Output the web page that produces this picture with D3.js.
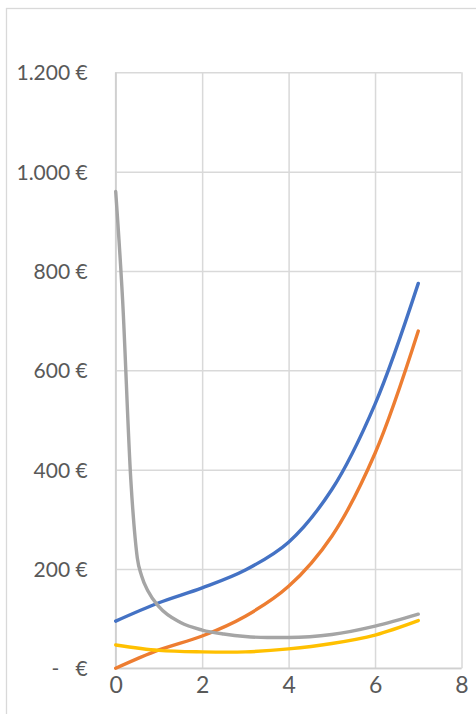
<!DOCTYPE html>
<html>
<head>
<meta charset="utf-8">
<script src="https://cdn.jsdelivr.net/npm/d3@7"></script>
<style>
  html, body { margin: 0; padding: 0; background: #fff; }
  svg { display: block; }
</style>
</head>
<body>
<svg id="chart" width="476" height="714"></svg>
<script>
// ---- data ----
const xValues      = [0, 1, 2, 3, 4, 5, 6, 7];
const blueSeries   = [95, 132, 162, 198, 254, 360, 532, 775];
const orangeSeries = [0, 37, 65, 105, 165, 266, 433, 679];
const yellowSeries = [47, 36, 33, 33, 39, 50, 67, 96];

const grayX        = [0, 0.16, 0.35, 0.45, 0.5, 0.6, 0.75, 1, 1.5, 2, 2.5, 3, 3.5, 4, 5, 6, 7];
const graySeries   = [960, 741, 379, 262, 222, 186, 155, 124, 92, 77, 69, 64, 62, 62, 68, 85, 109];

const xTicks = [0, 2, 4, 6, 8];
const yTicks = [0, 200, 400, 600, 800, 1000, 1200];

// ---- layout ----
const svg = d3.select("#chart");
const plot = { left: 115.7, right: 461.5, top: 72.3, bottom: 668.3 };

const x = d3.scaleLinear().domain([0, 8]).range([plot.left, plot.right]);
const y = d3.scaleLinear().domain([0, 1200]).range([plot.bottom, plot.top]);

const gridColor = "#d9d9d9";
const textColor = "#595959";
const fontFamily = "Lato, 'Open Sans', sans-serif";

// outer chart border
svg.append("rect")
  .attr("x", 6.5).attr("y", 8.5)
  .attr("width", 490).attr("height", 720)
  .attr("fill", "none")
  .attr("stroke", gridColor)
  .attr("stroke-width", 1.3);

// gridlines via axes
const yGrid = d3.axisLeft(y).tickValues(yTicks).tickSize(-(plot.right - plot.left)).tickFormat("");
svg.append("g")
  .attr("transform", `translate(${plot.left},0)`)
  .call(yGrid)
  .call(g => g.select(".domain").remove())
  .call(g => g.selectAll("line").attr("stroke", gridColor).attr("stroke-width", 1.5));

const xGrid = d3.axisBottom(x).tickValues(xTicks).tickSize(-(plot.bottom - plot.top)).tickFormat("");
svg.append("g")
  .attr("transform", `translate(0,${plot.bottom})`)
  .call(xGrid)
  .call(g => g.select(".domain").remove())
  .call(g => g.selectAll("line").attr("stroke", gridColor).attr("stroke-width", 1.5));

// axis lines (zero lines)
svg.append("line")
  .attr("x1", x(0)).attr("x2", x(8)).attr("y1", y(0)).attr("y2", y(0))
  .attr("stroke", "#d0d0d0").attr("stroke-width", 1.6);
svg.append("line")
  .attr("x1", x(0)).attr("x2", x(0)).attr("y1", y(0)).attr("y2", y(1200))
  .attr("stroke", "#d0d0d0").attr("stroke-width", 1.6);

// tick labels
const fmtEuro = v => v === 0 ? "-\u00a0\u00a0\u00a0€" : d3.format(",")(v).replace(/,/g, ".") + " €";

const yAxis = d3.axisLeft(y).tickValues(yTicks).tickSize(0).tickPadding(28).tickFormat(fmtEuro);
svg.append("g")
  .attr("transform", `translate(${plot.left},0)`)
  .call(yAxis)
  .call(g => g.select(".domain").remove())
  .call(g => g.selectAll("text")
    .attr("fill", textColor)
    .attr("font-family", fontFamily)
    .attr("font-size", 21)
    .attr("dy", "0.36em"));

const xAxis = d3.axisBottom(x).tickValues(xTicks).tickSize(0).tickPadding(23).tickFormat(d3.format("d"));
svg.append("g")
  .attr("transform", `translate(0,${plot.bottom})`)
  .call(xAxis)
  .call(g => g.select(".domain").remove())
  .call(g => g.selectAll("text")
    .attr("fill", textColor)
    .attr("font-family", fontFamily)
    .attr("font-size", 23)
    .attr("dy", "0.08em"));

// series
const smooth = d3.curveCatmullRom.alpha(0.5);
const series = [
  { name: "blue",   xs: xValues, ys: blueSeries,   color: "#4472C4", curve: smooth },
  { name: "orange", xs: xValues, ys: orangeSeries, color: "#ED7D31", curve: smooth },
  { name: "gray",   xs: grayX,   ys: graySeries,   color: "#A5A5A5", curve: d3.curveMonotoneX },
  { name: "yellow", xs: xValues, ys: yellowSeries, color: "#FFC000", curve: smooth }
];

svg.append("g").selectAll("path")
  .data(series)
  .join("path")
  .attr("d", s => d3.line()
      .x(d => x(d[0]))
      .y(d => y(d[1]))
      .curve(s.curve)(s.xs.map((xv, i) => [xv, s.ys[i]])))
  .attr("fill", "none")
  .attr("stroke", s => s.color)
  .attr("stroke-width", 3.4)
  .attr("stroke-linecap", "round")
  .attr("stroke-linejoin", "round");
</script>
</body>
</html>
